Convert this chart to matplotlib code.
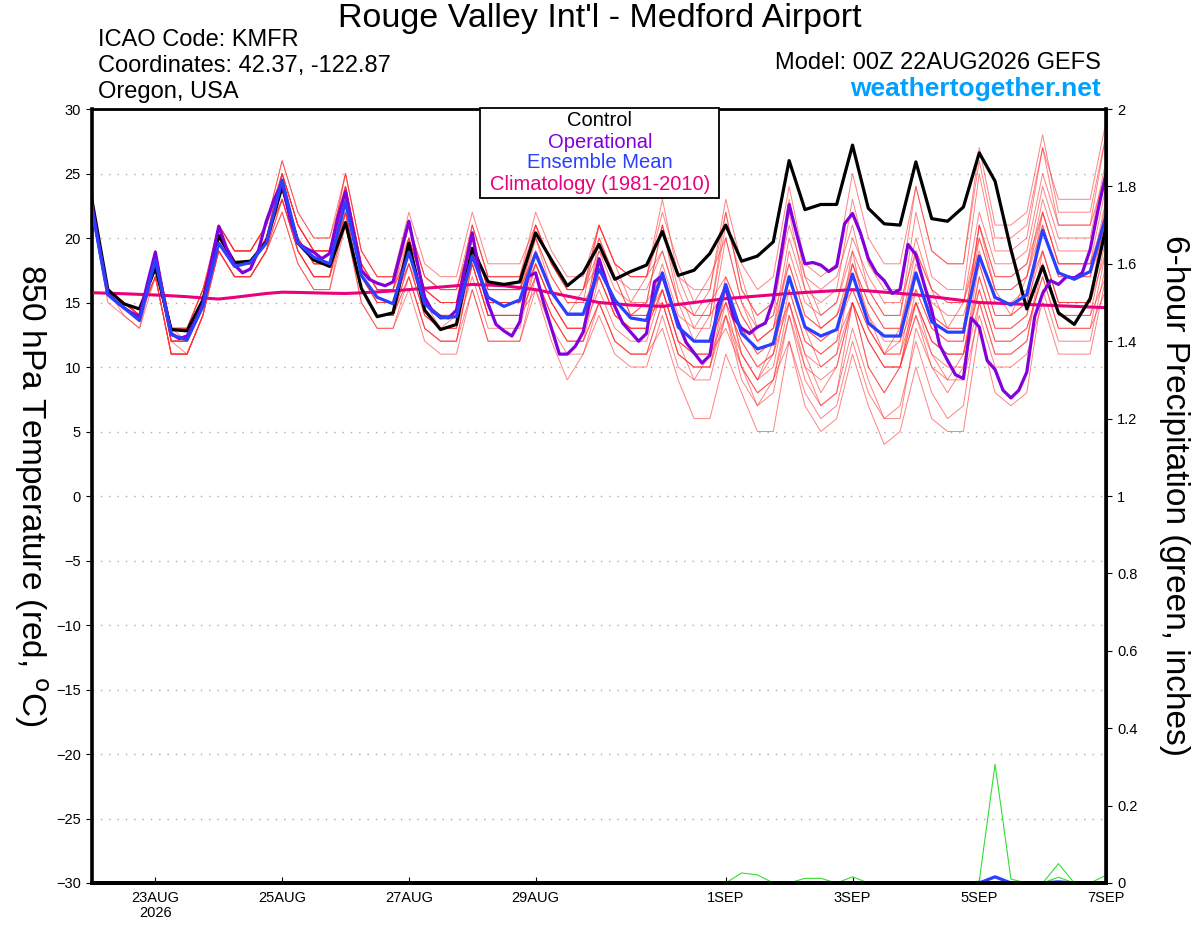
import matplotlib
matplotlib.use("Agg")
import matplotlib.pyplot as plt
import numpy as np
import pandas as pd
from matplotlib.patches import Rectangle

plt.rcParams['font.family'] = ['Liberation Sans', 'DejaVu Sans']

# 6-hourly GEFS times, 3-hourly operational
times = pd.date_range('2026-08-22 00:00', periods=65, freq='6h')
times_op = pd.date_range('2026-08-22 00:00', periods=129, freq='3h')

control = [22.9, 16.0, 14.9, 14.5, 17.7, 12.9, 12.8, 15.2, 20.2, 18.1, 18.2, 19.7, 24.0, 19.6, 18.3, 17.8,
           21.2, 16.1, 13.9, 14.2, 19.6, 14.4, 12.9, 13.3, 19.2, 16.6, 16.4, 16.6, 20.4, 18.3, 16.3, 17.3,
           19.5, 16.8, 17.4, 17.9, 20.5, 17.1, 17.5, 18.8, 21.0, 18.2, 18.6, 19.7, 26.0, 22.2, 22.6, 22.6,
           27.2, 22.3, 21.1, 21.0, 25.9, 21.5, 21.3, 22.4, 26.6, 24.4, 19.1, 14.5, 17.8, 14.2, 13.3, 15.3, 20.8]

ens_mean = [22.2, 15.6, 14.6, 13.6, 18.3, 12.5, 12.1, 14.7, 19.6, 17.8, 18.1, 19.6, 24.5, 19.6, 18.5, 18.0,
            22.8, 17.1, 15.4, 14.9, 18.9, 14.9, 13.8, 13.9, 18.6, 15.4, 14.7, 15.2, 18.8, 15.8, 14.1, 14.1,
            17.6, 15.2, 13.8, 13.6, 17.3, 13.1, 12.0, 12.0, 16.4, 12.6, 11.4, 11.8, 17.0, 13.1, 12.4, 12.9,
            17.2, 13.4, 12.4, 12.4, 17.3, 13.5, 12.7, 12.7, 18.6, 15.4, 14.8, 15.6, 20.6, 17.3, 16.8, 17.4, 21.7]

operational = [22.5, 19.0, 15.7, 15.1, 14.6, 14.2, 13.9, 16.5, 18.9, 15.5, 12.6, 12.2, 12.4, 13.5, 14.9, 18.0,
               20.9, 19.2, 17.9, 17.3, 17.6, 19.0, 21.3, 23.0, 24.3, 21.5, 19.6, 19.2, 18.9, 18.4, 18.8, 21.5,
               23.6, 20.5, 17.5, 16.8, 16.5, 16.3, 16.6, 19.0, 21.3, 18.3, 15.4, 14.3, 13.9, 13.8, 14.4, 17.5,
               20.4, 17.0, 14.9, 13.3, 12.8, 12.4, 13.5, 17.0, 17.3, 15.0, 13.0, 11.0, 11.0, 11.6, 12.7, 15.5,
               18.4, 16.5, 14.7, 13.4, 12.7, 12.0, 12.6, 16.6, 17.1, 15.2, 13.4, 11.9, 11.1, 10.3, 10.9, 14.8,
               16.2, 13.8, 13.0, 12.6, 13.1, 13.4, 15.2, 18.8, 22.6, 20.2, 18.0, 18.1, 17.9, 17.4, 17.8, 21.1,
               21.9, 20.4, 18.4, 17.3, 16.7, 15.7, 16.0, 19.5, 18.7, 16.5, 14.4, 11.7, 10.5, 9.4, 9.1, 13.8,
               13.1, 10.5, 9.8, 8.2, 7.6, 8.2, 9.6, 13.9, 15.7, 16.7, 16.4, 17.0, 16.9, 17.3, 19.1, 22.2, 25.0]

climatology = [15.76, 15.72, 15.68, 15.63, 15.58, 15.52, 15.45, 15.35, 15.27, 15.4, 15.55, 15.7, 15.8,
               15.78, 15.75, 15.72, 15.7, 15.75, 15.82, 15.9, 16.0, 16.1, 16.2, 16.3, 16.4, 16.35, 16.3,
               16.15, 16.0, 15.75, 15.5, 15.25, 15.0, 14.9, 14.8, 14.75, 14.7, 14.85, 15.0, 15.15, 15.3,
               15.4, 15.5, 15.6, 15.7, 15.78, 15.85, 15.92, 16.0, 15.9, 15.8, 15.7, 15.6, 15.45, 15.3,
               15.15, 15.0, 14.95, 14.9, 14.85, 14.8, 14.75, 14.7, 14.65, 14.6]

# perturbed members (rough reading of the spaghetti)
members = [
    [23,16,15,14, 18,13,12,15, 21,19,19,21, 25,21,19,19, 24,18,16,16, 21,17,16,16, 21,17,17,17, 22,19,17,17,
     21,18,17,17, 23,17,16,16, 23,18,16,17, 24,18,17,18, 25,20,18,18, 24,19,18,18, 27,21,21,22, 28,22,22,22, 28],
    [22,16,14,13, 17,11,11,14, 19,17,17,19, 22,18,16,16, 21,15,13,13, 16,12,11,11, 16,12,12,12, 17,14,12,12,
     15,12,11,11, 13,9,6,6, 11,8,5,5, 12,7,5,6, 11,7,4,5, 10,6,5,5, 13,8,7,8, 16,12,12,12, 18],
    [23,16,15,14, 19,13,13,16, 20,18,18,20, 25,21,19,19, 23,17,15,15, 18,15,13,14, 19,15,15,15, 20,16,14,16,
     20,17,16,16, 19,15,12,14, 16,13,11,12, 17,13,10,11, 15,12,10,10, 15,11,9,11, 17,13,13,14, 18,14,14,14, 20],
    [22,15,14,13, 18,12,11,14, 19,17,17,19, 23,19,17,17, 23,17,15,15, 20,16,15,15, 21,17,17,17, 21,18,16,16,
     19,17,14,15, 17,13,12,12, 16,11,9,12, 15,11,10,11, 18,14,11,12, 17,14,13,13, 21,17,17,18, 24,20,20,20, 26],
    [22,16,15,14, 17,11,11,14, 20,18,18,20, 25,21,19,19, 24,18,16,16, 19,15,14,14, 18,14,14,14, 17,14,12,12,
     15,12,11,11, 15,11,10,10, 15,12,10,11, 17,13,12,13, 18,15,13,13, 19,16,15,15, 20,16,16,17, 21,17,17,17, 21],
    [22,16,15,14, 19,13,13,16, 21,19,19,21, 24,20,18,18, 22,16,14,14, 17,13,12,12, 18,14,14,14, 19,16,14,14,
     19,16,15,15, 21,17,14,16, 22,16,14,15, 21,17,14,15, 19,16,14,14, 20,16,13,15, 19,15,15,16, 19,15,15,15, 19],
    [22,16,15,14, 18,12,12,15, 21,19,19,21, 26,22,20,20, 25,19,17,17, 20,16,15,15, 19,15,15,15, 18,15,13,13,
     18,15,14,14, 18,14,13,13, 20,15,13,14, 22,16,15,16, 23,18,16,16, 24,19,18,18, 26,20,20,21, 27,21,21,21, 25],
    [22,16,15,14, 17,11,11,14, 19,17,17,19, 23,19,17,17, 21,15,13,13, 17,13,12,12, 18,14,14,14, 16,13,11,11,
     14,11,10,10, 14,10,9,9, 14,10,7,8, 14,9,7,8, 13,9,6,7, 12,8,6,7, 15,11,11,12, 18,14,14,14, 17],
    [22,16,15,14, 18,12,12,15, 20,18,18,20, 25,21,19,19, 25,19,17,17, 22,18,17,17, 22,18,18,18, 21,18,16,16,
     18,15,14,14, 15,11,10,10, 14,9,7,9, 15,10,7,8, 15,10,8,10, 16,13,12,12, 20,16,16,17, 23,19,19,19, 25],
    [22,16,15,14, 19,13,13,16, 20,18,18,20, 23,19,17,17, 22,16,14,14, 19,15,14,14, 20,16,16,16, 20,17,15,15,
     21,18,15,17, 19,15,14,14, 21,17,13,14, 18,14,13,14, 17,14,12,12, 15,12,11,11, 16,12,12,13, 17,13,13,13, 16],
    [22,16,15,14, 18,12,12,15, 21,19,19,21, 24,20,18,18, 24,18,16,16, 20,16,15,15, 21,17,17,17, 20,17,15,15,
     17,14,13,13, 16,12,11,11, 16,13,11,12, 19,15,14,15, 20,17,15,15, 19,16,15,15, 22,18,18,19, 25,21,21,21, 28],
    [22,16,15,14, 17,11,11,14, 20,18,18,20, 23,19,17,17, 22,16,14,14, 18,14,13,13, 17,13,13,13, 18,15,13,13,
     18,15,14,14, 16,12,11,11, 13,10,8,9, 12,8,6,7, 12,8,6,6, 13,10,9,9, 14,10,10,11, 15,11,11,11, 17],
    [22,16,15,14, 18,12,12,15, 19,17,17,19, 24,20,18,18, 24,18,16,16, 21,17,16,16, 20,16,16,16, 19,16,14,14,
     17,14,13,13, 16,12,9,11, 14,11,9,10, 16,12,11,12, 19,13,11,13, 18,15,14,14, 18,14,14,15, 19,15,15,15, 22],
    [22,16,15,14, 19,13,13,16, 21,19,19,21, 26,22,20,20, 24,18,16,16, 19,15,14,14, 18,14,14,14, 18,15,13,13,
     20,17,14,15, 21,16,13,15, 17,14,12,13, 16,12,11,12, 15,12,10,10, 14,11,10,10, 15,11,11,12, 19,15,15,15, 23],
    [22,16,15,14, 18,12,12,15, 20,18,18,20, 23,19,17,17, 23,17,15,15, 20,16,15,15, 19,15,15,15, 18,15,13,13,
     16,13,12,12, 16,12,11,11, 17,14,12,13, 20,16,13,14, 18,15,13,13, 16,13,12,12, 21,16,14,17, 22,18,18,18, 24],
    [22,16,15,14, 17,11,11,14, 19,17,17,19, 24,20,18,18, 22,16,14,14, 17,13,12,12, 16,12,12,12, 16,12,9,11,
     15,12,11,11, 15,11,10,10, 16,11,9,11, 17,13,12,13, 16,13,11,11, 15,12,11,11, 16,12,12,13, 17,13,13,13, 19],
    [22,16,15,14, 18,12,12,15, 21,19,19,21, 25,21,19,19, 25,19,17,17, 21,17,16,16, 20,16,16,16, 21,18,16,16,
     21,18,17,17, 21,15,14,14, 22,16,14,15, 23,17,16,17, 21,16,14,14, 22,17,16,16, 25,19,19,20, 27,23,23,23, 29],
    [22,16,15,14, 18,12,12,15, 19,17,17,19, 22,18,16,16, 22,16,14,14, 19,15,14,14, 20,16,16,16, 19,16,14,14,
     17,14,13,13, 17,13,12,12, 15,12,10,11, 15,11,8,10, 15,10,8,10, 15,12,11,11, 18,14,14,15, 22,18,18,18, 22],
    [22,16,15,14, 19,13,13,16, 20,18,18,20, 24,20,18,18, 22,16,14,14, 18,14,13,13, 19,15,15,15, 21,18,16,16,
     21,18,17,17, 22,18,15,17, 20,15,12,13, 18,14,13,14, 16,13,11,11, 17,14,13,13, 21,17,17,18, 22,18,18,18, 21],
    [22,16,15,14, 17,11,11,14, 20,18,18,20, 25,21,19,19, 23,17,15,15, 18,14,13,13, 18,14,14,14, 17,14,12,12,
     17,14,13,13, 17,13,12,12, 15,10,8,9, 14,10,9,10, 15,12,10,10, 14,10,8,10, 17,13,13,14, 21,17,17,17, 23],
]

# 6-hour precipitation (inches), nonzero steps only
precip_member_a = {41: 0.026, 42: 0.021, 45: 0.012, 46: 0.012, 48: 0.016, 56: 0.005, 57: 0.307, 58: 0.01, 61: 0.05, 64: 0.02}
precip_member_b = {61: 0.015}
precip_mean = {57: 0.016, 61: 0.003}

c_red = '#ff3030'
c_green = '#33dd33'
c_purple = '#8200dc'
c_blue = '#2a40ff'
c_clim = '#e8007e'

fig = plt.figure(figsize=(12, 9.27), dpi=100)
ax = fig.add_axes([92 / 1200, 1 - 883 / 927, (1106 - 92) / 1200, (883 - 109) / 927])

for m in members:
    ax.plot(times, m, color=c_red, lw=0.7, alpha=0.6, zorder=2)
ax.plot(times, climatology, color=c_clim, lw=2.2, zorder=3)
ax.plot(times, control, color='black', lw=2.3, zorder=4)
ax.plot(times_op, operational, color=c_purple, lw=2.3, zorder=5)
ax.plot(times, ens_mean, color=c_blue, lw=2.3, zorder=6)

ax.set_ylim(-30, 30)
ax.set_xlim(times[0], times[-1])
ax.set_yticks(np.arange(-30, 31, 5))
ax.yaxis.grid(True, color='#aaaaaa', linestyle=(0, (1, 5)), lw=1)

tick_days = pd.to_datetime(['2026-08-23', '2026-08-25', '2026-08-27', '2026-08-29',
                            '2026-09-01', '2026-09-03', '2026-09-05', '2026-09-07'])
tick_labels = ['23AUG\n2026', '25AUG', '27AUG', '29AUG', '1SEP', '3SEP', '5SEP', '7SEP']
ax.set_xticks(tick_days)
ax.set_xticklabels(tick_labels, fontsize=10.5, linespacing=1.1)
ax.tick_params(axis='x', direction='in', length=4, pad=6)
ax.tick_params(axis='y', direction='out', length=4, labelsize=10.5, pad=4)

for s in ax.spines.values():
    s.set_linewidth(2)
ax.spines['left'].set_linewidth(2.6)
ax.spines['bottom'].set_linewidth(2.8)

# precipitation on the right axis
ax2 = ax.twinx()
pa = np.zeros(len(times))
pb = np.zeros(len(times))
pm = np.zeros(len(times))
for k, v in precip_member_a.items():
    pa[k] = v
for k, v in precip_member_b.items():
    pb[k] = v
for k, v in precip_mean.items():
    pm[k] = v
ax2.plot(times, pa, color=c_green, lw=0.8)
ax2.plot(times, pb, color=c_green, lw=0.8)
ax2.plot(times, pm, color=c_blue, lw=2.3)
ax2.set_ylim(0, 2)
ax2.set_yticks(np.arange(0, 2.01, 0.2))
ax2.set_yticklabels(['0', '0.2', '0.4', '0.6', '0.8', '1', '1.2', '1.4', '1.6', '1.8', '2'])
ax2.tick_params(axis='y', direction='out', length=4, labelsize=10.5, pad=4)
ax2.spines['right'].set_linewidth(2.6)
ax2.spines['bottom'].set_linewidth(2.8)
ax2.set_xlim(times[0], times[-1])

# axis titles
fig.text(0.026, 0.466, '850 hPa Temperature (red, $^{\\mathrm{o}}$C)', rotation=270,
         ha='center', va='center', fontsize=24)
fig.text(0.979, 0.466, '6-hour Precipitation (green, inches)', rotation=270,
         ha='center', va='center', fontsize=24)

# header
fig.text(0.5, 1 - 18 / 927, "Rouge Valley Int'l - Medford Airport", ha='center', va='center', fontsize=24.5)
fig.text(98 / 1200, 1 - 40 / 927, 'ICAO Code: KMFR', ha='left', va='center', fontsize=17)
fig.text(98 / 1200, 1 - 66 / 927, 'Coordinates: 42.37, -122.87', ha='left', va='center', fontsize=17)
fig.text(98 / 1200, 1 - 92 / 927, 'Oregon, USA', ha='left', va='center', fontsize=17)
fig.text(1101 / 1200, 1 - 63 / 927, 'Model: 00Z 22AUG2026 GEFS', ha='right', va='center', fontsize=17)
fig.text(1101 / 1200, 1 - 89 / 927, 'weathertogether.net', ha='right', va='center', fontsize=19,
         fontweight='bold', color='#00a0ff')

# legend box
fig.patches.append(Rectangle((480 / 1200, 1 - 198 / 927), 239 / 1200, 90 / 927,
                             transform=fig.transFigure, facecolor='white', edgecolor='black',
                             lw=1.3, zorder=10))
leg_items = [('Control', 'black', 121), ('Operational', c_purple, 142),
             ('Ensemble Mean', c_blue, 163), ('Climatology (1981-2010)', c_clim, 185)]
for label, col, ypix in leg_items:
    fig.text(600 / 1200, 1 - ypix / 927, label, ha='center', va='center', fontsize=14.5,
             color=col, zorder=11)

fig.savefig('out.png', dpi=100)
